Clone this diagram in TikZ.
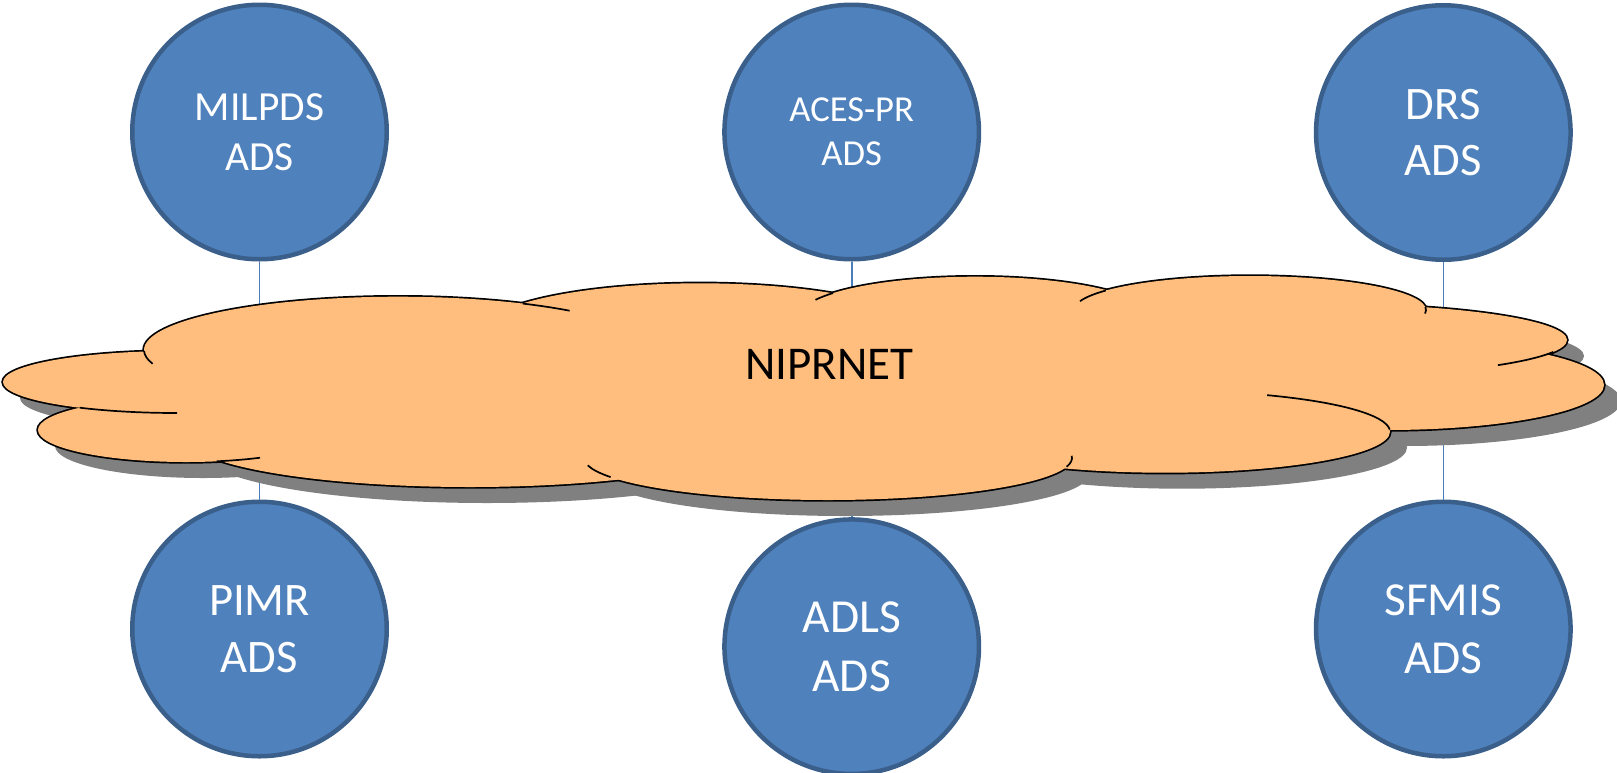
\documentclass[tikz,border=0pt]{standalone}
\usepackage{fontspec}
\setmainfont{Carlito}
\definecolor{circfill}{HTML}{4F81BD}
\definecolor{circedge}{HTML}{3A5F8B}
\definecolor{connblue}{HTML}{4A7EBB}
\definecolor{cloudfill}{HTML}{FFBE7D}
\definecolor{shadowc}{HTML}{808080}
\begin{document}
\begin{tikzpicture}[x=0.5pt,y=0.5pt,
  sysnode/.style={circle, fill=circfill, draw=circedge, line width=2.25pt,
    minimum size=127.25pt, inner sep=0pt, text=white, align=center},
  conn/.style={draw=connblue, line width=0.8pt},
  tuck/.style={draw=black, line width=0.85pt},
  outl/.style={draw=black, line width=1.7pt}]
\useasboundingbox (0,0) rectangle (1617,-772);
% systems
\node[sysnode, font={\fontsize{20.7}{25}\selectfont}] (milpds) at (259.5,-132) {MILPDS\\ADS};
\node[sysnode, font={\fontsize{18.3}{22}\selectfont}] (aces) at (851.7,-132) {ACES-PR\\ADS};
\node[sysnode, font={\fontsize{23.3}{28.4}\selectfont}] (drs) at (1443.3,-132.5) {DRS\\ADS};
\node[sysnode, font={\fontsize{23.3}{28.4}\selectfont}] (pimr) at (259.5,-629) {PIMR\\ADS};
\node[sysnode, font={\fontsize{23.7}{29.2}\selectfont}] (adls) at (851.7,-646.7) {ADLS\\ADS};
\node[sysnode, font={\fontsize{23.7}{29}\selectfont}] (sfmis) at (1443.3,-629) {SFMIS\\ADS};
% connectors (behind cloud)
\draw[conn] (milpds) -- (pimr);
\draw[conn] (aces) -- (adls);
\draw[conn] (drs) -- (sfmis);
% cloud
\def\lobes{177/382/174/31, 398/350/254/53.3, 700/333.3/221.5/50, 975/316.7/176/40,
  1250/310/176/34, 1324/340/243/36, 1387/385/217/45, 1165/431.7/225/41,
  828/458/244/42, 470/437/284/50, 186/430/148/32}
\def\filler{860/385/520/60}
\begin{scope}[shift={(17,-16)}]
  \foreach \cx/\cy/\rx/\ry in \lobes {\fill[shadowc] (\cx,-\cy) ellipse[x radius=\rx, y radius=\ry];}
  \foreach \cx/\cy/\rx/\ry in \filler {\fill[shadowc] (\cx,-\cy) ellipse[x radius=\rx, y radius=\ry];}
\end{scope}
\foreach \cx/\cy/\rx/\ry in \lobes {\path[outl] (\cx,-\cy) ellipse[x radius=\rx, y radius=\ry];}
\foreach \cx/\cy/\rx/\ry in \lobes {\fill[cloudfill] (\cx,-\cy) ellipse[x radius=\rx, y radius=\ry];}
\foreach \cx/\cy/\rx/\ry in \filler {\fill[cloudfill] (\cx,-\cy) ellipse[x radius=\rx, y radius=\ry];}
% tucks
\foreach \cx/\cy/\rx/\ry/\ta/\tb in {
  177/382/174/31/236/270,
  398/350/254/53.3/181/195,
  398/350/254/53.3/60.6/47.5,
  975/316.7/176/40/143.8/155,
  1250/310/176/34/145/165,
  1250/310/176/34/5/-6,
  1324/340/243/36/-19.3/-44.3,
  1165/431.7/225/41/63/3,
  828/458/244/42/207/190,
  828/458/244/42/-12/3,
  186/430/148/32/-78/-60}
  {\draw[tuck] ({\cx+\rx*cos(\ta)},{-\cy+\ry*sin(\ta)}) arc[start angle=\ta, end angle=\tb, x radius=\rx, y radius=\ry];}
\node[font={\fontsize{23.5}{28}\selectfont}, inner sep=0pt] (net) at (829.5,-364) {NIPRNET};
\end{tikzpicture}
\end{document}
